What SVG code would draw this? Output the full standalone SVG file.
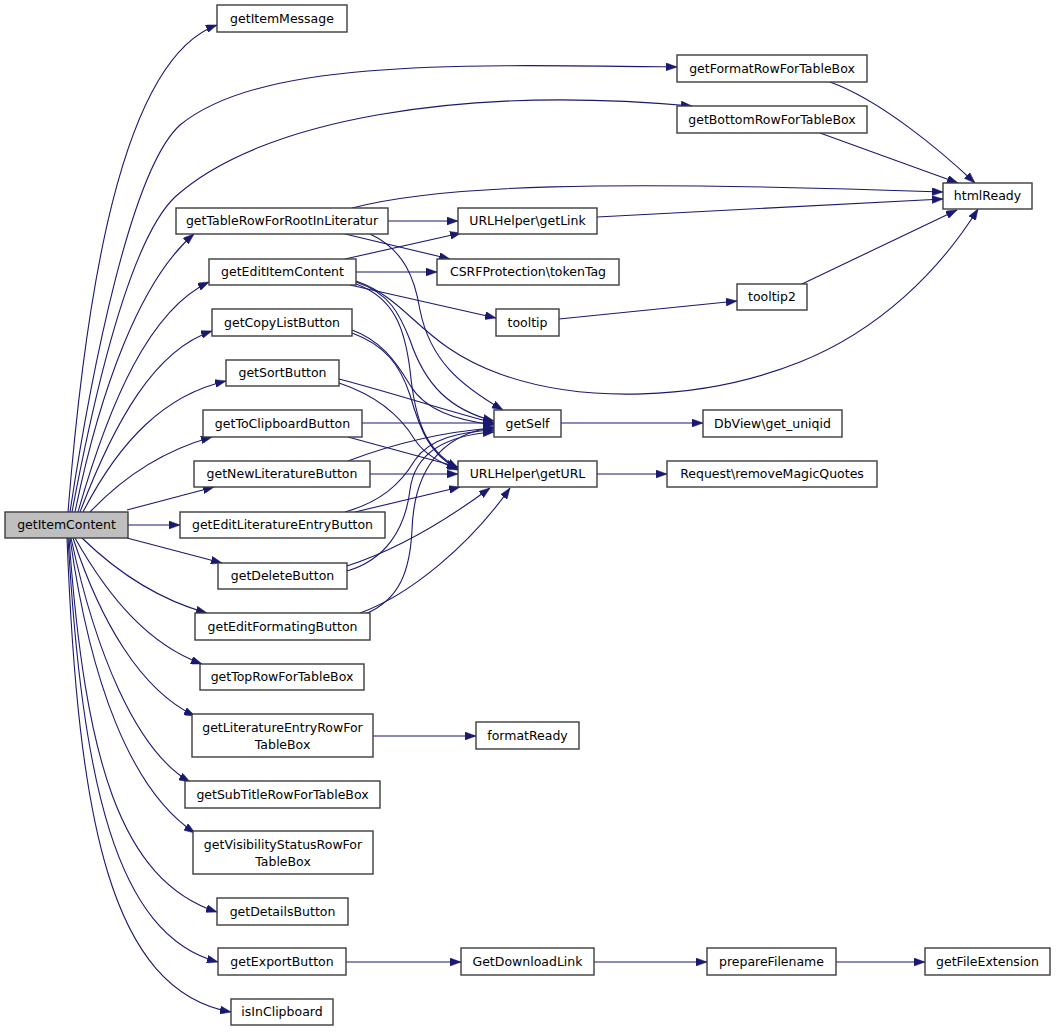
<svg xmlns="http://www.w3.org/2000/svg" width="1056" height="1032" viewBox="0 0 1056 1032">
<style>
.n rect{fill:#ffffff;stroke:#3c3c3c;stroke-width:1.4}
.root rect{fill:#bfbfbf}
.n text{font-family:"DejaVu Sans","Liberation Sans",sans-serif;font-size:12.5px;fill:#000;text-anchor:middle}
#edges path{fill:none;stroke:#191970;stroke-width:1.1;marker-end:url(#arr)}
</style>
<defs>
<marker id="arr" viewBox="0 0 11 8" refX="11" refY="4" markerWidth="11" markerHeight="8" markerUnits="userSpaceOnUse" orient="auto">
<path d="M0,0 L11,4 L0,8 z" fill="#191970" stroke="#191970" stroke-width="0.5"/>
</marker>
</defs>
<rect width="1056" height="1032" fill="#ffffff"/>
<g id="edges">
<path d="M68,512 C 85,300 120,60 217,25"/>
<path d="M70,512 C 90,380 130,170 180,125 C 260,60 450,64 677,67"/>
<path d="M72,512 C 95,390 130,240 175,197 C 260,120 460,85 692,106"/>
<path d="M75,512 C 100,390 140,280 194,234"/>
<path d="M78,512 C 110,400 150,310 209,282"/>
<path d="M80,512 C 115,420 155,350 212,331"/>
<path d="M83,512 C 120,440 165,395 226,381"/>
<path d="M90,512 C 125,475 165,450 212,437"/>
<path d="M127,510 L214,487"/>
<path d="M128,525 L180,525"/>
<path d="M127,538 L222,563"/>
<path d="M82,538 C 120,575 160,600 207,613"/>
<path d="M75,538 C 110,600 150,645 202,664"/>
<path d="M73,538 C 100,620 140,690 195,716"/>
<path d="M71,538 C 95,650 135,750 190,782"/>
<path d="M70,538 C 90,680 130,790 195,833"/>
<path d="M69,538 C 85,760 120,880 217,912"/>
<path d="M68,538 C 82,780 115,935 218,962"/>
<path d="M67,538 C 78,820 110,990 231,1012"/>
<path d="M830,82 C 880,100 940,150 975,183"/>
<path d="M820,133 L958,183"/>
<path d="M352,208 C 440,185 600,180 943,192"/>
<path d="M597,217 L943,199"/>
<path d="M802,284 L957,210"/>
<path d="M356,281 C 410,300 420,345 500,374 C 580,403 700,402 800,362 C 880,330 940,270 978,209"/>
<path d="M345,259 L461,233"/>
<path d="M356,272 L437,272"/>
<path d="M350,285 L496,318"/>
<path d="M356,282 C 390,293 400,315 410,340 C 425,385 450,410 494,421"/>
<path d="M356,284 C 395,298 405,330 410,370 C 415,420 425,450 458,468"/>
<path d="M345,234 L450,259"/>
<path d="M388,221 L458,221"/>
<path d="M370,234 C 405,250 415,280 420,310 C 430,360 460,385 503,410"/>
<path d="M352,330 C 380,340 395,360 410,385 C 425,410 455,420 494,425"/>
<path d="M352,333 C 385,345 400,365 410,395 C 420,430 430,455 458,469"/>
<path d="M339,379 C 400,395 450,412 494,423"/>
<path d="M339,383 C 375,395 400,415 415,440 C 425,455 440,462 458,470"/>
<path d="M362,423 L494,423"/>
<path d="M348,437 L458,467"/>
<path d="M370,474 L458,474"/>
<path d="M348,461 C 390,445 440,432 494,428"/>
<path d="M345,512 C 380,502 400,485 415,460 C 430,438 460,432 494,430"/>
<path d="M355,512 L460,487"/>
<path d="M347,566 C 390,552 440,525 490,488"/>
<path d="M347,571 C 385,560 405,530 410,490 C 415,450 450,435 494,432"/>
<path d="M360,613 C 410,595 470,545 510,488"/>
<path d="M365,614 C 400,600 410,570 412,530 C 414,470 440,435 494,427"/>
<path d="M561,423 L703,423"/>
<path d="M597,474 L667,474"/>
<path d="M559,319 L737,301"/>
<path d="M373,736 L476,736"/>
<path d="M346,962 L461,962"/>
<path d="M594,962 L707,962"/>
<path d="M836,962 L925,962"/>
</g>
<g id="getItemContent" class="n root"><rect x="5" y="512" width="123" height="26"/><text x="66.5" y="529">getItemContent</text></g>
<g id="getItemMessage" class="n"><rect x="217" y="5" width="130" height="27"/><text x="282" y="23">getItemMessage</text></g>
<g id="getFormatRowForTableBox" class="n"><rect x="677" y="55" width="190" height="27"/><text x="772" y="73">getFormatRowForTableBox</text></g>
<g id="getBottomRowForTableBox" class="n"><rect x="677" y="106" width="190" height="27"/><text x="772" y="124">getBottomRowForTableBox</text></g>
<g id="htmlReady" class="n"><rect x="943" y="183" width="89" height="26"/><text x="987.5" y="200">htmlReady</text></g>
<g id="getTableRowForRootInLiteratur" class="n"><rect x="176" y="208" width="212" height="26"/><text x="282" y="225">getTableRowForRootInLiteratur</text></g>
<g id="URLHelper_getLink" class="n"><rect x="458" y="208" width="139" height="26"/><text x="527.5" y="225">URLHelper\getLink</text></g>
<g id="getEditItemContent" class="n"><rect x="209" y="259" width="147" height="26"/><text x="282.5" y="276">getEditItemContent</text></g>
<g id="CSRFProtection_tokenTag" class="n"><rect x="437" y="259" width="182" height="26"/><text x="528" y="276">CSRFProtection\tokenTag</text></g>
<g id="tooltip" class="n"><rect x="496" y="309" width="63" height="27"/><text x="527.5" y="327">tooltip</text></g>
<g id="tooltip2" class="n"><rect x="737" y="284" width="70" height="26"/><text x="772" y="301">tooltip2</text></g>
<g id="getCopyListButton" class="n"><rect x="212" y="309" width="140" height="27"/><text x="282" y="327">getCopyListButton</text></g>
<g id="getSortButton" class="n"><rect x="226" y="360" width="113" height="26"/><text x="282.5" y="377">getSortButton</text></g>
<g id="getSelf" class="n"><rect x="494" y="410" width="67" height="27"/><text x="527.5" y="428">getSelf</text></g>
<g id="DbView_get_uniqid" class="n"><rect x="703" y="410" width="139" height="27"/><text x="772.5" y="428">DbView\get_uniqid</text></g>
<g id="getToClipboardButton" class="n"><rect x="203" y="410" width="159" height="27"/><text x="282.5" y="428">getToClipboardButton</text></g>
<g id="getNewLiteratureButton" class="n"><rect x="194" y="461" width="176" height="26"/><text x="282" y="478">getNewLiteratureButton</text></g>
<g id="URLHelper_getURL" class="n"><rect x="458" y="461" width="139" height="26"/><text x="527.5" y="478">URLHelper\getURL</text></g>
<g id="Request_removeMagicQuotes" class="n"><rect x="667" y="461" width="210" height="26"/><text x="772" y="478">Request\removeMagicQuotes</text></g>
<g id="getEditLiteratureEntryButton" class="n"><rect x="180" y="512" width="205" height="26"/><text x="282.5" y="529">getEditLiteratureEntryButton</text></g>
<g id="getDeleteButton" class="n"><rect x="218" y="563" width="129" height="26"/><text x="282.5" y="580">getDeleteButton</text></g>
<g id="getEditFormatingButton" class="n"><rect x="195" y="613" width="175" height="27"/><text x="282.5" y="631">getEditFormatingButton</text></g>
<g id="getTopRowForTableBox" class="n"><rect x="200" y="664" width="164" height="26"/><text x="282" y="681">getTopRowForTableBox</text></g>
<g id="getLiteratureEntryRowForTableBox" class="n"><rect x="192" y="714" width="181" height="43"/><text x="282.5" y="732">getLiteratureEntryRowFor</text><text x="282.5" y="749">TableBox</text></g>
<g id="formatReady" class="n"><rect x="476" y="722" width="103" height="27"/><text x="527.5" y="740">formatReady</text></g>
<g id="getSubTitleRowForTableBox" class="n"><rect x="185" y="781" width="195" height="27"/><text x="282.5" y="799">getSubTitleRowForTableBox</text></g>
<g id="getVisibilityStatusRowForTableBox" class="n"><rect x="193" y="831" width="180" height="43"/><text x="283" y="849">getVisibilityStatusRowFor</text><text x="283" y="866">TableBox</text></g>
<g id="getDetailsButton" class="n"><rect x="217" y="898" width="131" height="27"/><text x="282.5" y="916">getDetailsButton</text></g>
<g id="getExportButton" class="n"><rect x="218" y="948" width="128" height="27"/><text x="282" y="966">getExportButton</text></g>
<g id="GetDownloadLink" class="n"><rect x="461" y="948" width="133" height="27"/><text x="527.5" y="966">GetDownloadLink</text></g>
<g id="prepareFilename" class="n"><rect x="707" y="948" width="129" height="27"/><text x="771.5" y="966">prepareFilename</text></g>
<g id="getFileExtension" class="n"><rect x="925" y="948" width="125" height="27"/><text x="987.5" y="966">getFileExtension</text></g>
<g id="isInClipboard" class="n"><rect x="231" y="999" width="102" height="26"/><text x="282" y="1016">isInClipboard</text></g>
</svg>
